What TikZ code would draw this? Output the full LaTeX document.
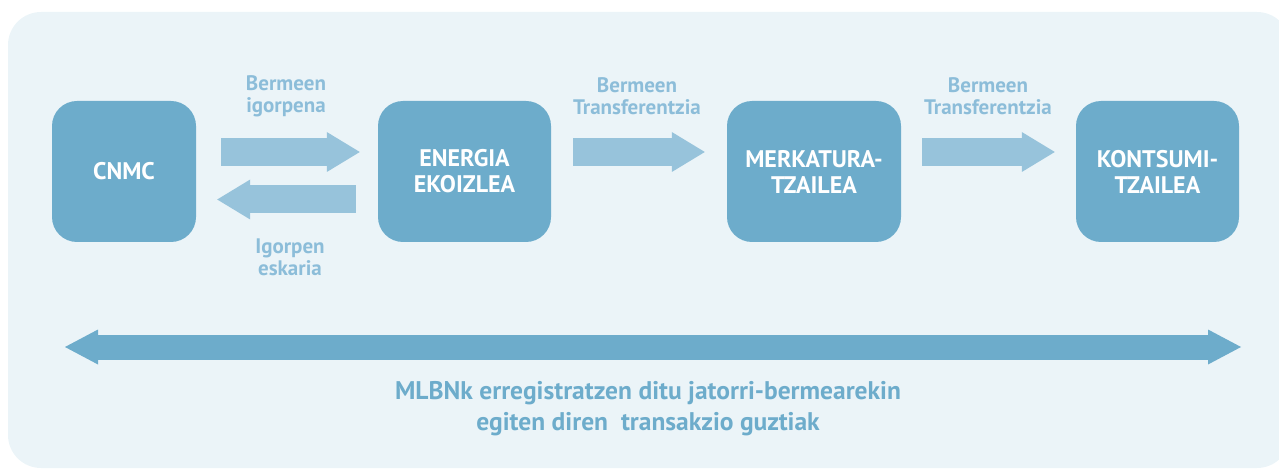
\documentclass[tikz,border=0pt]{standalone}
\usepackage{fontspec}
\setmainfont{PT Sans}
\usetikzlibrary{arrows.meta,positioning}
\definecolor{bgblue}{HTML}{EBF4F8}
\definecolor{boxblue}{HTML}{6DACCB}
\definecolor{arrblue}{HTML}{97C3DB}
\definecolor{lblblue}{HTML}{8CBDD9}
\begin{document}
\begin{tikzpicture}[x=1pt,y=-1pt,
    box/.style={fill=boxblue,rounded corners=25pt,text=white,align=center,
      font=\fontsize{24}{26}\selectfont\bfseries,minimum height=141pt},
    lbl/.style={text=lblblue,align=center,font=\fontsize{21}{22}\selectfont\bfseries},
    fat/.style={arrblue,line width=28pt,-{Triangle[width=40pt,length=33pt,line width=0pt]}},
    both/.style={boxblue,line width=25pt,{Triangle[width=35pt,length=33pt,line width=0pt]}-{Triangle[width=35pt,length=33pt,line width=0pt]}}]
  \useasboundingbox (0,0) rectangle (1279,470);
  \fill[bgblue,rounded corners=33pt] (8,12) rectangle (1290,468);

  \node[box,minimum width=144pt] (cnmc) at (124,171.5) {CNMC};
  \node[box,minimum width=173pt] (ekoiz) at (464.5,171.5) {ENERGIA\\EKOIZLEA};
  \node[box,minimum width=174pt] (merk) at (814,171.5) {MERKATURA-\\TZAILEA};
  \node[box,minimum width=163pt] (kont) at (1157.5,171.5) {KONTSUMI-\\TZAILEA};

  \draw[fat,shorten <=25pt,shorten >=18pt] ([yshift=19.5pt]cnmc.east) -- ([yshift=19.5pt]ekoiz.west);
  \draw[fat,shorten <=22pt,shorten >=21pt] ([yshift=-28pt]ekoiz.west) -- ([yshift=-28pt]cnmc.east);
  \draw[fat,shorten <=22pt,shorten >=22pt] ([yshift=19.5pt]ekoiz.east) -- ([yshift=19.5pt]merk.west);
  \draw[fat,shorten <=21pt,shorten >=21pt] ([yshift=19.5pt]merk.east) -- ([yshift=19.5pt]kont.west);

  \node[lbl] (l1) at (286,96) {Bermeen\\igorpena};
  \node[lbl] (l2) at (290,257) {Igorpen\\eskaria};
  \node[lbl] (l3) at (637,96) {Bermeen\\Transferentzia};
  \node[lbl] (l4) at (988,96) {Bermeen\\Transferentzia};

  \coordinate (left) at (65,347);
  \coordinate (right) at (1241,347);
  \draw[both] (left) -- (right);
  \node[text=boxblue,align=center,font=\fontsize{25.5}{31}\selectfont\bfseries] (mlbn) at (648,409)
    {MLBNk erregistratzen ditu jatorri-bermearekin\\egiten diren\ \ transakzio guztiak};
\end{tikzpicture}
\end{document}
